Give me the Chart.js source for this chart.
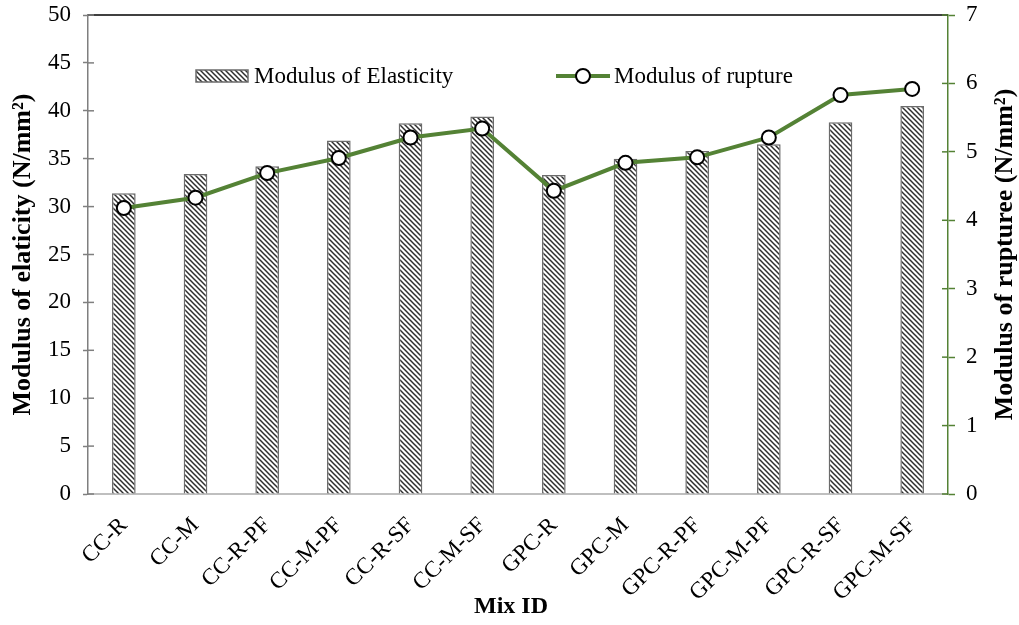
<!DOCTYPE html>
<html>
<head>
<meta charset="utf-8">
<script src="https://cdn.jsdelivr.net/npm/chart.js@4"></script>
<style>
  html, body { margin: 0; padding: 0; background: #fff; }
  #wrap { width: 1019px; height: 625px; position: relative; }
</style>
</head>
<body>
<div id="wrap"><canvas id="chart"></canvas></div>
<script>
// Mix IDs along the x axis
const mixIds = ['CC-R', 'CC-M', 'CC-R-PF', 'CC-M-PF', 'CC-R-SF', 'CC-M-SF',
  'GPC-R', 'GPC-M', 'GPC-R-PF', 'GPC-M-PF', 'GPC-R-SF', 'GPC-M-SF'];

// Modulus of elasticity (N/mm2), left axis
const elasticity = [31.4, 33.4, 34.2, 36.9, 38.7, 39.4, 33.3, 35.0, 35.8, 36.5, 38.8, 40.5];

// Modulus of rupture (N/mm2), right axis
const rupture = [4.18, 4.33, 4.69, 4.91, 5.21, 5.34, 4.43, 4.84, 4.92, 5.21, 5.83, 5.92];

const leftTicks = [0, 50, 5];   // min, max, step
const rightTicks = [0, 7, 1];

const SERIF = '"Times New Roman", "Liberation Serif", serif';
const GREEN = '#548235';
const AXIS_GREY = '#7f7f7f';

// Diagonal hatch used for the elasticity bars
function makeHatch() {
  const c = document.createElement('canvas');
  c.width = 5;
  c.height = 5;
  const g = c.getContext('2d');
  g.fillStyle = '#ffffff';
  g.fillRect(0, 0, 5, 5);
  g.strokeStyle = '#2e2e2e';
  g.lineWidth = 1.5;
  [-5, 0, 5].forEach((o) => {
    g.beginPath();
    g.moveTo(o - 1, -1);
    g.lineTo(o + 6, 6);
    g.stroke();
  });
  return g.createPattern(c, 'repeat');
}
const hatch = makeHatch();

// keep the vertical axes from pushing the plot area down
function fixVertical(width) {
  return (s) => {
    s.width = width;
    s.paddingTop = 0;
    s.paddingBottom = 0;
  };
}

// Axis frame: top border line and the inner halves of the tick marks
const framePlugin = {
  id: 'frame',
  afterDatasetsDraw(chart) {
    const { ctx, chartArea: a, scales } = chart;
    ctx.save();
    ctx.strokeStyle = '#000';
    ctx.lineWidth = 1.5;
    ctx.beginPath();
    ctx.moveTo(a.left, a.top);
    ctx.lineTo(a.right, a.top);
    ctx.stroke();

    ctx.strokeStyle = AXIS_GREY;
    scales.y.ticks.forEach((t) => {
      const py = scales.y.getPixelForValue(t.value);
      ctx.beginPath();
      ctx.moveTo(a.left, py);
      ctx.lineTo(a.left + 6, py);
      ctx.stroke();
    });
    ctx.strokeStyle = GREEN;
    scales.y1.ticks.forEach((t) => {
      const py = scales.y1.getPixelForValue(t.value);
      ctx.beginPath();
      ctx.moveTo(a.right, py);
      ctx.lineTo(a.right - 6, py);
      ctx.stroke();
    });
    ctx.restore();
  }
};

// Titles and the legend drawn inside the plot area
const labelsPlugin = {
  id: 'labels',
  afterDraw(chart) {
    const { ctx, chartArea: a } = chart;
    const midY = (a.top + a.bottom) / 2;
    ctx.save();
    ctx.fillStyle = '#000';
    ctx.textAlign = 'center';
    ctx.textBaseline = 'middle';
    ctx.font = 'bold 26px ' + SERIF;

    ctx.save();
    ctx.translate(23, midY);
    ctx.rotate(-Math.PI / 2);
    ctx.fillText('Modulus of elaticity (N/mm²)', 0, 0);
    ctx.restore();

    ctx.save();
    ctx.translate(1005, midY);
    ctx.rotate(-Math.PI / 2);
    ctx.fillText('Modulus of rupturee (N/mm²)', 0, 0);
    ctx.restore();

    ctx.font = 'bold 24px ' + SERIF;
    ctx.fillText('Mix ID', 511, 607);

    // legend
    const ly = 76;
    ctx.font = '23px ' + SERIF;
    ctx.textAlign = 'left';
    ctx.fillStyle = hatch;
    ctx.fillRect(196, 70, 52, 12);
    ctx.strokeStyle = '#6b6b6b';
    ctx.lineWidth = 1.5;
    ctx.strokeRect(196, 70, 52, 12);
    ctx.fillStyle = '#000';
    ctx.fillText('Modulus of Elasticity', 254, ly + 1);

    ctx.strokeStyle = GREEN;
    ctx.lineWidth = 4;
    ctx.beginPath();
    ctx.moveTo(556, ly);
    ctx.lineTo(610, ly);
    ctx.stroke();
    ctx.beginPath();
    ctx.arc(583, ly, 7, 0, Math.PI * 2);
    ctx.fillStyle = '#fff';
    ctx.fill();
    ctx.strokeStyle = '#000';
    ctx.lineWidth = 2;
    ctx.stroke();
    ctx.fillStyle = '#000';
    ctx.fillText('Modulus of rupture', 614, ly + 1);
    ctx.restore();
  }
};

new Chart(document.getElementById('chart'), {
  type: 'bar',
  data: {
    labels: mixIds,
    datasets: [
      {
        type: 'line',
        label: 'Modulus of rupture',
        data: rupture,
        yAxisID: 'y1',
        order: 0,
        borderColor: GREEN,
        borderWidth: 4,
        tension: 0,
        pointRadius: 7,
        pointBackgroundColor: '#fff',
        pointBorderColor: '#000',
        pointBorderWidth: 2
      },
      {
        label: 'Modulus of Elasticity',
        data: elasticity,
        yAxisID: 'y',
        order: 1,
        backgroundColor: hatch,
        borderColor: '#6b6b6b',
        borderWidth: 1.5,
        barPercentage: 0.33,
        categoryPercentage: 1
      }
    ]
  },
  options: {
    responsive: true,
    maintainAspectRatio: false,
    animation: false,
    devicePixelRatio: 1,
    layout: { padding: { top: 15, left: 0, right: 0, bottom: 0 } },
    plugins: {
      legend: { display: false },
      tooltip: { enabled: false }
    },
    scales: {
      x: {
        grid: { display: false },
        border: { display: true, color: '#bfbfbf', width: 2 },
        ticks: {
          color: '#000',
          font: { family: SERIF, size: 23 },
          maxRotation: 45,
          minRotation: 45,
          padding: 10
        },
        afterFit: (s) => { s.height = 131; }
      },
      y: {
        position: 'left',
        min: leftTicks[0],
        max: leftTicks[1],
        grid: { drawOnChartArea: false, tickLength: 5, tickColor: AXIS_GREY, tickWidth: 1.5 },
        border: { display: true, color: AXIS_GREY, width: 1.5 },
        ticks: {
          stepSize: leftTicks[2],
          color: '#000',
          font: { family: SERIF, size: 23 },
          padding: 12
        },
        afterFit: fixVertical(88)
      },
      y1: {
        position: 'right',
        min: rightTicks[0],
        max: rightTicks[1],
        grid: { drawOnChartArea: false, tickLength: 7, tickColor: GREEN, tickWidth: 1.5 },
        border: { display: true, color: GREEN, width: 1.5 },
        ticks: {
          stepSize: rightTicks[2],
          color: '#000',
          font: { family: SERIF, size: 23 },
          padding: 11
        },
        afterFit: fixVertical(71)
      }
    }
  },
  plugins: [framePlugin, labelsPlugin]
});
</script>
</body>
</html>
